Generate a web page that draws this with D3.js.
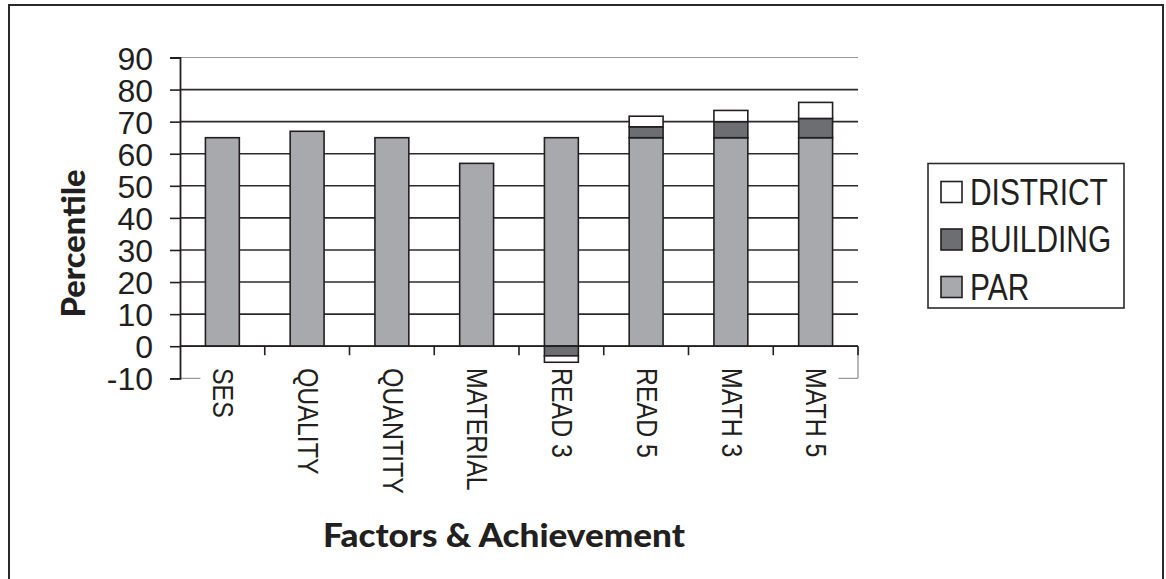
<!DOCTYPE html>
<html><head><meta charset="utf-8">
<script src="https://cdn.jsdelivr.net/npm/d3@7"></script>
<style>
html,body{margin:0;padding:0;background:#fff;}
svg{display:block;}
</style></head>
<body>
<svg id="chart" width="1166" height="579"></svg>
<script>
const categories = ["SES","QUALITY","QUANTITY","MATERIAL","READ 3","READ 5","MATH 3","MATH 5"];
const parValues = [65,67,65,57,65,65,65,65];
const buildingValues = [0,0,0,0,-3,3.4,5,6];
const districtValues = [0,0,0,0,-2,3.3,3.5,5];
const seriesNames = ["PAR","BUILDING","DISTRICT"];
const legendOrder = ["DISTRICT","BUILDING","PAR"];
const yTickValues = [-10,0,10,20,30,40,50,60,70,80,90];
const yTitle = "Percentile";
const xTitle = "Factors & Achievement";

const colors = {PAR:"#a8a9ac", BUILDING:"#6d6e71", DISTRICT:"#ffffff"};
const ink = "#231f20";
const font = "'Liberation Sans', Arial, sans-serif";

const svg = d3.select("#chart");
const W = 1166, H = 579;

// outer frame
svg.append("rect").attr("x",9).attr("y",5).attr("width",1154).attr("height",600)
  .attr("fill","none").attr("stroke","#2a2a2a").attr("stroke-width",2);

const plot = {left:180, right:858, top:57.5, bottom:378.3};
const x = d3.scaleBand().domain(categories).range([plot.left, plot.right])
  .paddingInner(0.6).paddingOuter(0.3);
const y = d3.scaleLinear().domain([-10,90]).range([plot.bottom, plot.top]);

const rows = categories.map((c,i)=>({cat:c, PAR:parValues[i], BUILDING:buildingValues[i], DISTRICT:districtValues[i]}));
const stacked = d3.stack().keys(seriesNames).offset(d3.stackOffsetDiverging)(rows);

// gridlines
const grid = svg.append("g");
grid.selectAll("line").data(yTickValues).join("line")
  .attr("x1",plot.left).attr("x2",plot.right)
  .attr("y1",d=>y(d)).attr("y2",d=>y(d))
  .attr("stroke",d=> (d===90||d===-10) ? "#9a9a9a" : "#2b2b2b")
  .attr("stroke-width",d=> (d===90||d===-10) ? 1.2 : 1.6);
// plot border right segment below zero (gray)
svg.append("line").attr("x1",plot.right).attr("x2",plot.right)
  .attr("y1",y(0)).attr("y2",y(-10)).attr("stroke","#9a9a9a").attr("stroke-width",1.4);

// white backing behind category labels (covers -10 gridline)
const step = x.step();
const firstC = x(categories[0]) + x.bandwidth()/2;
const lastC = x(categories[categories.length-1]) + x.bandwidth()/2;
svg.append("rect").attr("x",firstC-22).attr("y",y(-10)-4)
  .attr("width",(lastC+23)-(firstC-22)).attr("height",8).attr("fill","#fff");

// bars
const barsG = svg.append("g");
stacked.forEach(s=>{
  barsG.append("g").selectAll("rect")
    .data(s.filter(d=>d[1]!==d[0]))
    .join("rect")
    .attr("x",d=>x(d.data.cat))
    .attr("width",x.bandwidth())
    .attr("y",d=>y(Math.max(d[0],d[1])))
    .attr("height",d=>Math.abs(y(d[0])-y(d[1])))
    .attr("fill",colors[s.key])
    .attr("stroke",ink).attr("stroke-width",1.6);
});

// y axis
const yAxis = d3.axisLeft(y).tickValues(yTickValues).tickSize(10).tickPadding(17)
  .tickFormat(d3.format("d"));
const yG = svg.append("g").attr("transform",`translate(${plot.left},0)`).call(yAxis);
yG.select(".domain").attr("stroke",ink).attr("stroke-width",1.8);
yG.selectAll(".tick line").attr("stroke",ink).attr("stroke-width",1.6);
yG.selectAll(".tick text").attr("font-family",font).attr("font-size",32)
  .attr("fill","#231f20").attr("dy","0.36em").text(d=>d<0 ? "-"+Math.abs(d) : d);

// x axis at zero with ticks between categories
const xTickPos = d3.range(1, categories.length+1).map(k=>plot.left + k*step);
const xG = svg.append("g");
xG.append("line").attr("x1",plot.left).attr("x2",plot.right)
  .attr("y1",y(0)).attr("y2",y(0)).attr("stroke",ink).attr("stroke-width",1.8);
xG.selectAll("line.t").data(xTickPos).join("line").attr("class","t")
  .attr("x1",d=>d).attr("x2",d=>d).attr("y1",y(0)).attr("y2",y(0)+9)
  .attr("stroke",ink).attr("stroke-width",1.6);

// category labels, rotated
const capCat = 21.7;
const labels = svg.append("g").selectAll("text").data(categories).join("text")
  .attr("transform",d=>`translate(${x(d)+x.bandwidth()/2 - capCat/2 + 1.5},368) rotate(90)`)
  .attr("font-family",font).attr("font-size",30).attr("fill","#231f20")
  .text(d=>d);
labels.each(function(){
  const L = this.getComputedTextLength();
  d3.select(this).attr("textLength",L*0.83).attr("lengthAdjust","spacingAndGlyphs");
});

// axis titles
const yt = svg.append("text").attr("transform","translate(85,243.5) rotate(-90)")
  .attr("text-anchor","middle").attr("font-family","Lato, 'Open Sans', sans-serif")
  .attr("font-weight",900).attr("font-size",33).attr("fill","#231f20").text(yTitle);
yt.attr("textLength",148).attr("lengthAdjust","spacingAndGlyphs");
const xt = svg.append("text").attr("x",504).attr("y",546.5)
  .attr("text-anchor","middle").attr("font-family","Lato, 'Open Sans', sans-serif")
  .attr("font-weight",900).attr("font-size",33).attr("fill","#231f20").text(xTitle);
xt.attr("textLength",362).attr("lengthAdjust","spacingAndGlyphs");

// legend
const lg = svg.append("g");
lg.append("rect").attr("x",928).attr("y",163.5).attr("width",196).attr("height",144.5)
  .attr("fill","#fff").attr("stroke","#2b2b2b").attr("stroke-width",1.6);
const legendY = d3.scalePoint().domain(legendOrder).range([192,287]);
const items = lg.selectAll("g.item").data(legendOrder).join("g").attr("class","item")
  .attr("transform",d=>`translate(941,${legendY(d)})`);
items.append("rect").attr("x",0).attr("y",-10.5).attr("width",21).attr("height",21)
  .attr("fill",d=>colors[d]).attr("stroke",ink).attr("stroke-width",1.6);
items.append("text").attr("x",29).attr("y",12.5)
  .attr("font-family",font).attr("font-size",36).attr("fill","#231f20").text(d=>d)
  .each(function(){
    const L = this.getComputedTextLength();
    d3.select(this).attr("textLength",L*0.83).attr("lengthAdjust","spacingAndGlyphs");
  });
</script>
</body></html>
